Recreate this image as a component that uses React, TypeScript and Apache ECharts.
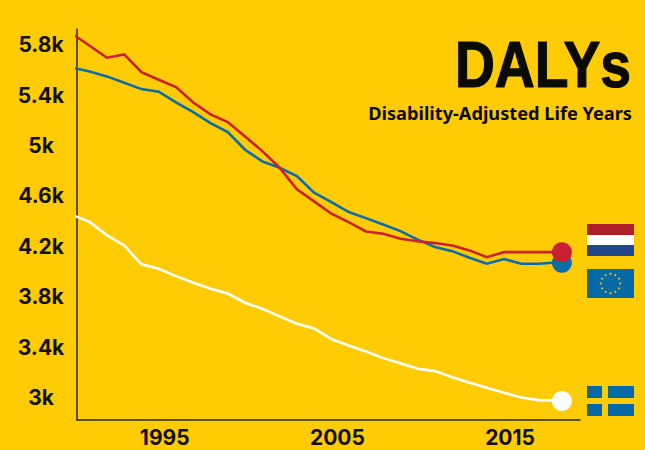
import React, { useEffect, useRef } from "react";
import * as echarts from "echarts";

const years = [1990,1991,1992,1993,1994,1995,1996,1997,1998,1999,2000,2001,2002,2003,2004,2005,2006,2007,2008,2009,2010,2011,2012,2013,2014,2015,2016,2017,2018];
const netherlands = [5885,5791,5696,5722,5582,5521,5463,5341,5246,5185,5071,4955,4823,4651,4556,4458,4391,4317,4299,4260,4240,4225,4206,4167,4113,4153,4153,4153,4153];
const europe = [5617,5587,5548,5498,5447,5426,5341,5264,5177,5106,4966,4873,4823,4756,4625,4550,4471,4423,4373,4320,4252,4193,4161,4109,4061,4098,4061,4061,4071];
const sweden = [4448,4393,4286,4206,4056,4021,3963,3910,3863,3825,3752,3704,3643,3585,3548,3463,3413,3365,3312,3272,3228,3209,3161,3117,3077,3037,3000,2979,2976];
const endYear = 2018;
const endValues = { netherlands: 4153, europe: 4069, sweden: 2971 };
const yTicks = [3000,3400,3800,4200,4600,5000,5400,5800];
const xTicks = [1995,2005,2015];

const BG = "#FFCB03";
const RED = "#CB2031";
const BLUE = "#0A6CA8";
const WHITE = "#FFFFFF";
const INK = "#111108";
const LABEL_FONT = "Inter";
const X_MIN = 1989.92;
const X_MAX = 2019.05;
const LINE_SHIFT = 0.347;

const pairs = (vals: number[]) => vals.map((v, i) => [years[i], v]);

const starAngles = [0,30,60,90,120,150,180,210,240,270,300,330];

function flags() {
  const r = (x: number, y: number, width: number, height: number, fill: string) => ({ type: "rect", silent: true, shape: { x, y, width, height }, style: { fill } });
  const stars = starAngles.map((a) => ({
    type: "circle", silent: true,
    shape: { cx: 610.5 + 9.7 * Math.cos((a * Math.PI) / 180), cy: 283.5 + 9.7 * Math.sin((a * Math.PI) / 180), r: 1.1 },
    style: { fill: "#E3C21C" },
  }));
  return [
    r(587, 224, 47, 11, "#AE1F28"),
    r(587, 235, 47, 10, "#FFFFFF"),
    r(587, 245, 47, 11, "#21468B"),
    r(587, 269, 47, 29, "#0569A5"),
    ...stars,
    r(587, 386, 15, 12, "#0569A5"),
    r(608, 386, 26, 12, "#0569A5"),
    r(587, 404, 15, 12, "#0569A5"),
    r(608, 404, 26, 12, "#0569A5"),
  ];
}

export default function App() {
  const ref = useRef<HTMLDivElement>(null);
  useEffect(() => {
    document.body.style.margin = "0";
    document.body.style.background = BG;
    const chart = echarts.init(ref.current!, undefined, { renderer: "svg" });
    const line = (name: string, vals: number[], color: string) => ({
      name, type: "line", xAxisIndex: 1, data: pairs(vals), showSymbol: false, symbol: "none",
      lineStyle: { color, width: 2.6, join: "miter" }, clip: true, z: 2,
    });
    const dot = (name: string, v: number, color: string, z: number) => ({
      name: name + " end", type: "scatter", xAxisIndex: 0, data: [[endYear, v]], symbol: "circle", symbolSize: 20,
      itemStyle: { color, opacity: 1 }, clip: false, z,
    });
    chart.setOption({
      animation: false,
      backgroundColor: BG,
      textStyle: { fontFamily: LABEL_FONT },
      grid: { left: 77, right: 65, top: 29, bottom: 30 },
      xAxis: [
        {
          type: "value", min: X_MIN, max: X_MAX, splitLine: { show: false },
          axisLine: { show: true, onZero: false, lineStyle: { color: "#2A2A10", width: 1.5 } },
          axisTick: { show: false },
          axisLabel: { customValues: xTicks, formatter: (v: number) => String(v), color: INK, fontSize: 21, fontWeight: 700, fontFamily: LABEL_FONT, margin: 7 },
        },
        { type: "value", min: X_MIN + LINE_SHIFT, max: X_MAX + LINE_SHIFT, show: false },
      ],
      yAxis: {
        type: "value", min: 2821, max: 5924, splitLine: { show: false },
        axisLine: { show: true, onZero: false, lineStyle: { color: "#2A2A10", width: 1.5 } },
        axisTick: { show: false },
        axisLabel: { customValues: yTicks, formatter: (v: number) => v / 1000 + "k", color: INK, fontSize: 21, fontWeight: 700, fontFamily: LABEL_FONT, align: "center", margin: 36 },
      },
      series: [
        line("Sweden", sweden, WHITE),
        line("EU", europe, BLUE),
        line("Netherlands", netherlands, RED),
        dot("Sweden", endValues.sweden, WHITE, 3),
        dot("EU", endValues.europe, BLUE, 3),
        dot("Netherlands", endValues.netherlands, RED, 4),
      ],
      graphic: [
        { type: "text", silent: true, x: 631, y: 64, scaleX: 0.85, style: { text: "DALYs", fill: "#0B0B05", stroke: "#0B0B05", lineWidth: 1.2, font: "bold 65px 'Liberation Sans'", textAlign: "right", textVerticalAlign: "middle" } },
        { type: "text", silent: true, x: 632, y: 113, style: { text: "Disability-Adjusted Life Years", fill: "#0B0B05", font: "bold 18.2px 'Noto Sans'", textAlign: "right", textVerticalAlign: "middle" } },
        ...flags(),
      ],
    });
    return () => chart.dispose();
  }, []);
  return <div ref={ref} style={{ width: 645, height: 450 }} />;
}
